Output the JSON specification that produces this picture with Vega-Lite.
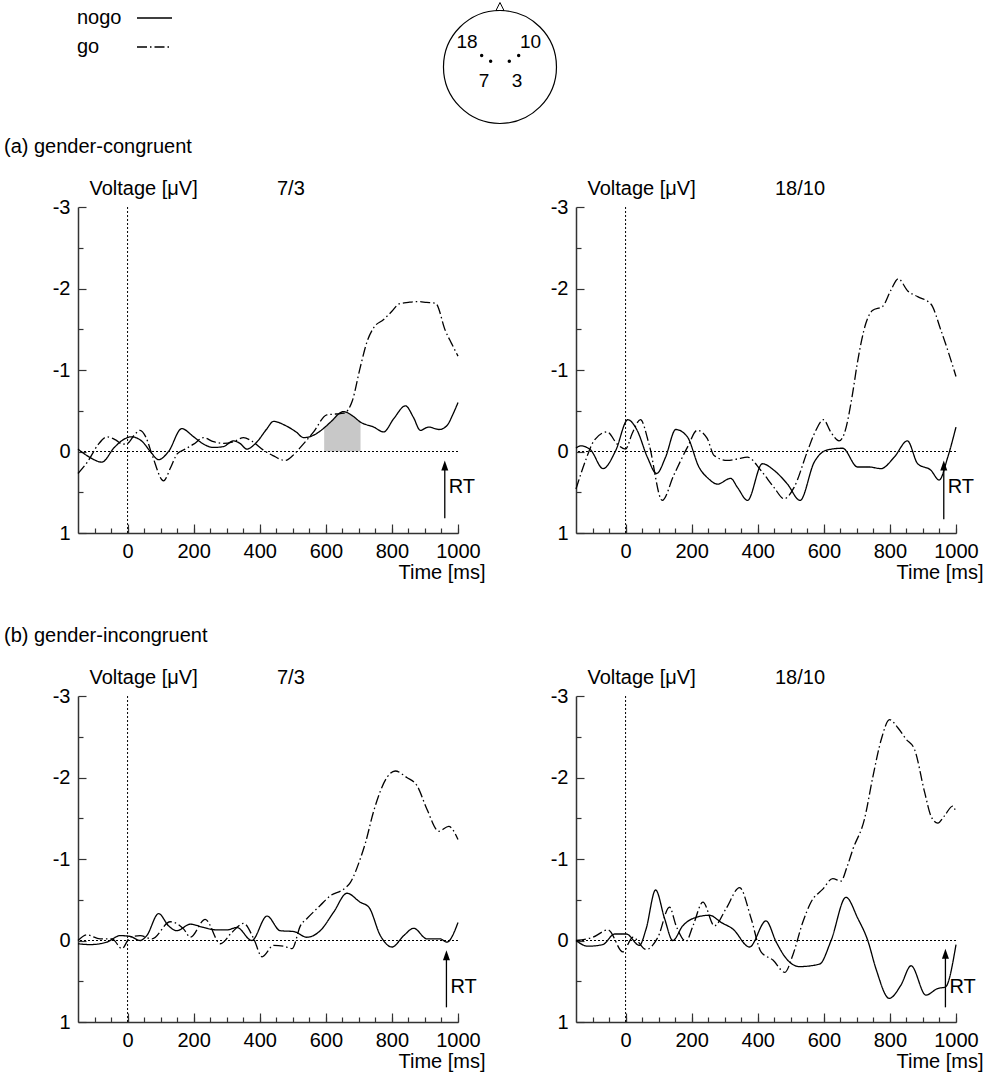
{
  "$schema": "https://vega.github.io/schema/vega-lite/v6.json",
  "padding": {"left": 4, "top": -0.5, "right": 0, "bottom": 0},
  "background": "white",
  "spacing": 10.5,
  "config": {
    "font": "Liberation Sans",
    "view": {"stroke": null},
    "axis": {"grid": false, "labelFont": "Liberation Sans", "labelFontSize": 20, "labelColor": "#000", "titleFont": "Liberation Sans", "titleFontSize": 20, "titleFontWeight": "normal", "titleColor": "#000", "domainColor": "#333", "domainWidth": 1.5, "tickColor": "#333", "tickWidth": 1.2, "labelFlush": false, "labelOverlap": false},
    "title": {"font": "Liberation Sans", "fontSize": 20, "fontWeight": "normal", "color": "#000"},
    "text": {"font": "Liberation Sans", "fontSize": 20, "color": "#000"},
    "legend": {"labelFont": "Liberation Sans", "labelFontSize": 20, "labelColor": "#000"}
  },
  "datasets": {
    "a73": [
      {"cond":"nogo","time":-150,"voltage":-0.03},{"cond":"nogo","time":-115,"voltage":0.07},{"cond":"nogo","time":-78,"voltage":0.13},{"cond":"nogo","time":-40,"voltage":-0.05},{"cond":"nogo","time":-15,"voltage":-0.14},{"cond":"nogo","time":12,"voltage":-0.18},{"cond":"nogo","time":45,"voltage":-0.12},{"cond":"nogo","time":69,"voltage":0.0},{"cond":"nogo","time":94,"voltage":0.10},{"cond":"nogo","time":124,"voltage":0.0},{"cond":"nogo","time":164,"voltage":-0.28},{"cond":"nogo","time":200,"voltage":-0.18},{"cond":"nogo","time":230,"voltage":-0.09},{"cond":"nogo","time":260,"voltage":-0.05},{"cond":"nogo","time":290,"voltage":-0.06},{"cond":"nogo","time":320,"voltage":-0.13},{"cond":"nogo","time":340,"voltage":-0.10},{"cond":"nogo","time":361,"voltage":-0.03},{"cond":"nogo","time":392,"voltage":-0.12},{"cond":"nogo","time":420,"voltage":-0.27},{"cond":"nogo","time":442,"voltage":-0.37},{"cond":"nogo","time":477,"voltage":-0.32},{"cond":"nogo","time":510,"voltage":-0.24},{"cond":"nogo","time":533,"voltage":-0.17},{"cond":"nogo","time":563,"voltage":-0.20},{"cond":"nogo","time":595,"voltage":-0.29},{"cond":"nogo","time":614,"voltage":-0.36},{"cond":"nogo","time":654,"voltage":-0.49},{"cond":"nogo","time":680,"voltage":-0.44},{"cond":"nogo","time":705,"voltage":-0.36},{"cond":"nogo","time":745,"voltage":-0.30},{"cond":"nogo","time":775,"voltage":-0.24},{"cond":"nogo","time":805,"voltage":-0.40},{"cond":"nogo","time":841,"voltage":-0.56},{"cond":"nogo","time":865,"voltage":-0.42},{"cond":"nogo","time":886,"voltage":-0.26},{"cond":"nogo","time":911,"voltage":-0.30},{"cond":"nogo","time":943,"voltage":-0.27},{"cond":"nogo","time":967,"voltage":-0.32},{"cond":"nogo","time":985,"voltage":-0.46},{"cond":"nogo","time":1000,"voltage":-0.60},
      {"cond":"go","time":-150,"voltage":0.27},{"cond":"go","time":-120,"voltage":0.12},{"cond":"go","time":-90,"voltage":-0.08},{"cond":"go","time":-62,"voltage":-0.18},{"cond":"go","time":-35,"voltage":-0.14},{"cond":"go","time":-15,"voltage":-0.09},{"cond":"go","time":0,"voltage":-0.10},{"cond":"go","time":20,"voltage":-0.20},{"cond":"go","time":38,"voltage":-0.26},{"cond":"go","time":55,"voltage":-0.18},{"cond":"go","time":75,"voltage":0.05},{"cond":"go","time":109,"voltage":0.36},{"cond":"go","time":130,"voltage":0.20},{"cond":"go","time":150,"voltage":0.03},{"cond":"go","time":175,"voltage":-0.03},{"cond":"go","time":200,"voltage":-0.09},{"cond":"go","time":230,"voltage":-0.17},{"cond":"go","time":260,"voltage":-0.12},{"cond":"go","time":290,"voltage":-0.10},{"cond":"go","time":320,"voltage":-0.12},{"cond":"go","time":351,"voltage":-0.17},{"cond":"go","time":375,"voltage":-0.13},{"cond":"go","time":410,"voltage":-0.02},{"cond":"go","time":440,"voltage":0.05},{"cond":"go","time":477,"voltage":0.11},{"cond":"go","time":500,"voltage":0.05},{"cond":"go","time":523,"voltage":-0.05},{"cond":"go","time":563,"voltage":-0.24},{"cond":"go","time":603,"voltage":-0.45},{"cond":"go","time":630,"voltage":-0.46},{"cond":"go","time":655,"voltage":-0.47},{"cond":"go","time":680,"voltage":-0.62},{"cond":"go","time":704,"voltage":-1.03},{"cond":"go","time":725,"voltage":-1.35},{"cond":"go","time":745,"voltage":-1.52},{"cond":"go","time":775,"voltage":-1.62},{"cond":"go","time":800,"voltage":-1.72},{"cond":"go","time":821,"voltage":-1.81},{"cond":"go","time":850,"voltage":-1.83},{"cond":"go","time":876,"voltage":-1.84},{"cond":"go","time":905,"voltage":-1.83},{"cond":"go","time":932,"voltage":-1.82},{"cond":"go","time":962,"voltage":-1.48},{"cond":"go","time":980,"voltage":-1.33},{"cond":"go","time":1000,"voltage":-1.17}
    ],
    "a1810": [
      {"cond":"nogo","time":-150,"voltage":-0.04},{"cond":"nogo","time":-136,"voltage":-0.07},{"cond":"nogo","time":-106,"voltage":-0.02},{"cond":"nogo","time":-68,"voltage":0.21},{"cond":"nogo","time":-30,"voltage":-0.01},{"cond":"nogo","time":7,"voltage":-0.39},{"cond":"nogo","time":35,"voltage":-0.26},{"cond":"nogo","time":66,"voltage":0.07},{"cond":"nogo","time":94,"voltage":0.27},{"cond":"nogo","time":121,"voltage":0.07},{"cond":"nogo","time":152,"voltage":-0.27},{"cond":"nogo","time":187,"voltage":-0.18},{"cond":"nogo","time":222,"voltage":0.19},{"cond":"nogo","time":250,"voltage":0.33},{"cond":"nogo","time":278,"voltage":0.40},{"cond":"nogo","time":318,"voltage":0.33},{"cond":"nogo","time":340,"voltage":0.45},{"cond":"nogo","time":369,"voltage":0.60},{"cond":"nogo","time":414,"voltage":0.15},{"cond":"nogo","time":449,"voltage":0.23},{"cond":"nogo","time":490,"voltage":0.40},{"cond":"nogo","time":528,"voltage":0.60},{"cond":"nogo","time":571,"voltage":0.13},{"cond":"nogo","time":611,"voltage":-0.02},{"cond":"nogo","time":657,"voltage":-0.04},{"cond":"nogo","time":702,"voltage":0.19},{"cond":"nogo","time":737,"voltage":0.19},{"cond":"nogo","time":773,"voltage":0.21},{"cond":"nogo","time":813,"voltage":0.07},{"cond":"nogo","time":853,"voltage":-0.13},{"cond":"nogo","time":884,"voltage":0.15},{"cond":"nogo","time":924,"voltage":0.23},{"cond":"nogo","time":949,"voltage":0.35},{"cond":"nogo","time":975,"voltage":0.07},{"cond":"nogo","time":1000,"voltage":-0.30},
      {"cond":"go","time":-150,"voltage":0.46},{"cond":"go","time":-121,"voltage":0.11},{"cond":"go","time":-96,"voltage":-0.13},{"cond":"go","time":-56,"voltage":-0.24},{"cond":"go","time":-25,"voltage":-0.09},{"cond":"go","time":0,"voltage":-0.03},{"cond":"go","time":20,"voltage":-0.22},{"cond":"go","time":45,"voltage":-0.39},{"cond":"go","time":71,"voltage":-0.09},{"cond":"go","time":111,"voltage":0.60},{"cond":"go","time":146,"voltage":0.29},{"cond":"go","time":187,"voltage":-0.05},{"cond":"go","time":217,"voltage":-0.26},{"cond":"go","time":247,"voltage":-0.16},{"cond":"go","time":268,"voltage":0.05},{"cond":"go","time":308,"voltage":0.11},{"cond":"go","time":340,"voltage":0.09},{"cond":"go","time":369,"voltage":0.07},{"cond":"go","time":409,"voltage":0.23},{"cond":"go","time":449,"voltage":0.44},{"cond":"go","time":480,"voltage":0.58},{"cond":"go","time":510,"voltage":0.44},{"cond":"go","time":551,"voltage":-0.01},{"cond":"go","time":576,"voltage":-0.26},{"cond":"go","time":599,"voltage":-0.39},{"cond":"go","time":621,"voltage":-0.24},{"cond":"go","time":646,"voltage":-0.13},{"cond":"go","time":662,"voltage":-0.22},{"cond":"go","time":687,"voltage":-0.71},{"cond":"go","time":700,"voltage":-1.05},{"cond":"go","time":727,"voltage":-1.57},{"cond":"go","time":747,"voltage":-1.73},{"cond":"go","time":778,"voltage":-1.78},{"cond":"go","time":803,"voltage":-1.98},{"cond":"go","time":825,"voltage":-2.12},{"cond":"go","time":854,"voltage":-1.97},{"cond":"go","time":884,"voltage":-1.90},{"cond":"go","time":924,"voltage":-1.81},{"cond":"go","time":955,"voltage":-1.48},{"cond":"go","time":980,"voltage":-1.18},{"cond":"go","time":1000,"voltage":-0.92}
    ],
    "b73": [
      {"cond":"nogo","time":-150,"voltage":0.04},{"cond":"nogo","time":-113,"voltage":0.05},{"cond":"nogo","time":-63,"voltage":0.02},{"cond":"nogo","time":-22,"voltage":-0.06},{"cond":"nogo","time":8,"voltage":-0.05},{"cond":"nogo","time":38,"voltage":0.0},{"cond":"nogo","time":58,"voltage":-0.06},{"cond":"nogo","time":94,"voltage":-0.33},{"cond":"nogo","time":124,"voltage":-0.18},{"cond":"nogo","time":149,"voltage":-0.12},{"cond":"nogo","time":190,"voltage":-0.20},{"cond":"nogo","time":230,"voltage":-0.16},{"cond":"nogo","time":270,"voltage":-0.13},{"cond":"nogo","time":301,"voltage":-0.13},{"cond":"nogo","time":331,"voltage":-0.16},{"cond":"nogo","time":376,"voltage":0.0},{"cond":"nogo","time":422,"voltage":-0.30},{"cond":"nogo","time":462,"voltage":-0.12},{"cond":"nogo","time":503,"voltage":-0.11},{"cond":"nogo","time":543,"voltage":-0.04},{"cond":"nogo","time":583,"voltage":-0.12},{"cond":"nogo","time":624,"voltage":-0.35},{"cond":"nogo","time":664,"voltage":-0.58},{"cond":"nogo","time":704,"voltage":-0.47},{"cond":"nogo","time":730,"voltage":-0.41},{"cond":"nogo","time":765,"voltage":-0.06},{"cond":"nogo","time":800,"voltage":0.08},{"cond":"nogo","time":836,"voltage":-0.06},{"cond":"nogo","time":866,"voltage":-0.15},{"cond":"nogo","time":906,"voltage":-0.02},{"cond":"nogo","time":946,"voltage":-0.02},{"cond":"nogo","time":966,"voltage":0.02},{"cond":"nogo","time":1000,"voltage":-0.22},
      {"cond":"go","time":-150,"voltage":0.0},{"cond":"go","time":-123,"voltage":-0.07},{"cond":"go","time":-83,"voltage":-0.02},{"cond":"go","time":-47,"voltage":-0.02},{"cond":"go","time":-17,"voltage":0.10},{"cond":"go","time":8,"voltage":-0.04},{"cond":"go","time":38,"voltage":-0.06},{"cond":"go","time":74,"voltage":-0.02},{"cond":"go","time":129,"voltage":-0.23},{"cond":"go","time":170,"voltage":-0.14},{"cond":"go","time":190,"voltage":-0.04},{"cond":"go","time":235,"voltage":-0.26},{"cond":"go","time":281,"voltage":0.04},{"cond":"go","time":316,"voltage":-0.10},{"cond":"go","time":351,"voltage":-0.21},{"cond":"go","time":382,"voltage":-0.02},{"cond":"go","time":407,"voltage":0.20},{"cond":"go","time":442,"voltage":0.06},{"cond":"go","time":472,"voltage":0.07},{"cond":"go","time":498,"voltage":0.10},{"cond":"go","time":523,"voltage":-0.18},{"cond":"go","time":543,"voltage":-0.27},{"cond":"go","time":583,"voltage":-0.43},{"cond":"go","time":614,"voltage":-0.55},{"cond":"go","time":654,"voltage":-0.63},{"cond":"go","time":674,"voltage":-0.71},{"cond":"go","time":704,"voltage":-1.0},{"cond":"go","time":720,"voltage":-1.2},{"cond":"go","time":745,"voltage":-1.59},{"cond":"go","time":785,"voltage":-2.0},{"cond":"go","time":810,"voltage":-2.08},{"cond":"go","time":845,"voltage":-2.0},{"cond":"go","time":876,"voltage":-1.90},{"cond":"go","time":906,"voltage":-1.61},{"cond":"go","time":942,"voltage":-1.34},{"cond":"go","time":972,"voltage":-1.40},{"cond":"go","time":1000,"voltage":-1.24}
    ],
    "b1810": [
      {"cond":"nogo","time":-150,"voltage":0.0},{"cond":"nogo","time":-114,"voltage":0.07},{"cond":"nogo","time":-69,"voltage":0.05},{"cond":"nogo","time":-33,"voltage":-0.08},{"cond":"nogo","time":2,"voltage":-0.08},{"cond":"nogo","time":42,"voltage":0.06},{"cond":"nogo","time":62,"voltage":-0.14},{"cond":"nogo","time":91,"voltage":-0.62},{"cond":"nogo","time":118,"voltage":-0.27},{"cond":"nogo","time":143,"voltage":0.0},{"cond":"nogo","time":173,"voltage":-0.18},{"cond":"nogo","time":204,"voltage":-0.27},{"cond":"nogo","time":254,"voltage":-0.31},{"cond":"nogo","time":290,"voltage":-0.22},{"cond":"nogo","time":325,"voltage":-0.14},{"cond":"nogo","time":375,"voltage":0.08},{"cond":"nogo","time":425,"voltage":-0.24},{"cond":"nogo","time":456,"voltage":0.02},{"cond":"nogo","time":486,"voltage":0.22},{"cond":"nogo","time":526,"voltage":0.32},{"cond":"nogo","time":587,"voltage":0.29},{"cond":"nogo","time":622,"voltage":0.0},{"cond":"nogo","time":667,"voltage":-0.53},{"cond":"nogo","time":703,"voltage":-0.27},{"cond":"nogo","time":733,"voltage":0.0},{"cond":"nogo","time":758,"voltage":0.35},{"cond":"nogo","time":798,"voltage":0.71},{"cond":"nogo","time":833,"voltage":0.55},{"cond":"nogo","time":864,"voltage":0.31},{"cond":"nogo","time":909,"voltage":0.67},{"cond":"nogo","time":944,"voltage":0.59},{"cond":"nogo","time":968,"voltage":0.57},{"cond":"nogo","time":1000,"voltage":0.05},
      {"cond":"go","time":-150,"voltage":0.0},{"cond":"go","time":-99,"voltage":-0.04},{"cond":"go","time":-53,"voltage":-0.13},{"cond":"go","time":-8,"voltage":0.14},{"cond":"go","time":22,"voltage":-0.04},{"cond":"go","time":62,"voltage":0.11},{"cond":"go","time":98,"voltage":-0.04},{"cond":"go","time":133,"voltage":-0.41},{"cond":"go","time":153,"voltage":-0.18},{"cond":"go","time":183,"voltage":0.01},{"cond":"go","time":204,"voltage":-0.18},{"cond":"go","time":234,"voltage":-0.47},{"cond":"go","time":269,"voltage":-0.18},{"cond":"go","time":304,"voltage":-0.39},{"cond":"go","time":345,"voltage":-0.65},{"cond":"go","time":380,"voltage":-0.27},{"cond":"go","time":410,"voltage":0.14},{"cond":"go","time":446,"voltage":0.24},{"cond":"go","time":482,"voltage":0.39},{"cond":"go","time":506,"voltage":0.18},{"cond":"go","time":536,"voltage":-0.22},{"cond":"go","time":561,"voltage":-0.47},{"cond":"go","time":597,"voltage":-0.63},{"cond":"go","time":627,"voltage":-0.76},{"cond":"go","time":652,"voltage":-0.73},{"cond":"go","time":670,"voltage":-0.9},{"cond":"go","time":688,"voltage":-1.12},{"cond":"go","time":723,"voltage":-1.49},{"cond":"go","time":748,"voltage":-2.0},{"cond":"go","time":774,"voltage":-2.47},{"cond":"go","time":799,"voltage":-2.71},{"cond":"go","time":824,"voltage":-2.61},{"cond":"go","time":849,"voltage":-2.47},{"cond":"go","time":874,"voltage":-2.35},{"cond":"go","time":905,"voltage":-1.82},{"cond":"go","time":925,"voltage":-1.52},{"cond":"go","time":945,"voltage":-1.44},{"cond":"go","time":965,"voltage":-1.53},{"cond":"go","time":990,"voltage":-1.65},{"cond":"go","time":1000,"voltage":-1.57}
    ],
    "electrodes": [
      {"label":"18","ex":-0.324,"ey":0.204,"lx":-0.584,"ly":0.434},
      {"label":"7","ex":-0.165,"ey":0.103,"lx":-0.283,"ly":-0.239},
      {"label":"3","ex":0.165,"ey":0.103,"lx":0.301,"ly":-0.239},
      {"label":"10","ex":0.331,"ey":0.204,"lx":0.540,"ly":0.434}
    ]
  },
  "vconcat": [
    {
      "width": 380, "height": 45,
      "layer": [
        {"data": {"values": [{}]}, "mark": {"type": "point", "shape": "circle", "size": 12769, "filled": false, "stroke": "#000", "strokeWidth": 1.2, "opacity": 1},
         "encoding": {"x": {"datum": 0, "type": "quantitative", "scale": {"domain": [-7.469, -0.743], "nice": false, "zero": false}, "axis": null},
                      "y": {"datum": 0, "type": "quantitative", "scale": {"domain": [0.3451, 1.1416], "nice": false, "zero": false}, "axis": null}}},
        {"data": {"values": [{}]}, "mark": {"type": "point", "shape": "M0,-1L-0.5,0L0.5,0Z", "size": 256, "filled": false, "stroke": "#000", "strokeWidth": 1, "opacity": 1},
         "encoding": {"x": {"datum": 0, "type": "quantitative"}, "y": {"datum": 1, "type": "quantitative"}}},
        {"data": {"name": "electrodes"}, "mark": {"type": "point", "shape": "circle", "size": 12, "filled": true, "color": "#000", "opacity": 1},
         "encoding": {"x": {"field": "ex", "type": "quantitative"}, "y": {"field": "ey", "type": "quantitative"}}},
        {"data": {"name": "electrodes"}, "mark": {"type": "text", "fontSize": 19, "align": "center", "baseline": "middle"},
         "encoding": {"x": {"field": "lx", "type": "quantitative"}, "y": {"field": "ly", "type": "quantitative"}, "text": {"field": "label"}}}
      ]
    },
    {
      "spacing": 43,
      "vconcat": [
        {
          "title": {"text": "(a) gender-congruent", "anchor": "start", "frame": "group", "dx": -74, "offset": 5, "baseline": "alphabetic"},
          "bounds": "flush",
          "spacing": 118,
          "hconcat": [
            {
              "width": 380, "height": 326,
              "title": {"text": "7/3", "anchor": "start", "frame": "group", "dx": 199, "offset": -37, "baseline": "alphabetic"},
              "resolve": {"axis": {"x": "independent"}},
              "layer": [
                {"data": {"name": "a73"}, "transform": [{"filter": "datum.cond === 'nogo' && datum.time >= 595 && datum.time <= 705"}],
                 "mark": {"type": "area", "color": "#c8c8c8", "interpolate": "monotone", "opacity": 1},
                 "encoding": {"x": {"field": "time", "type": "quantitative", "axis": null}, "y": {"field": "voltage", "type": "quantitative"}, "y2": {"datum": 0}}},
                {"data": {"values": [{}]}, "mark": {"type": "rule", "strokeDash": [2, 2], "color": "#000", "strokeWidth": 1}, "encoding": {"y": {"datum": 0, "type": "quantitative"}}},
                {"data": {"values": [{}]}, "mark": {"type": "rule", "strokeDash": [2, 2], "color": "#000", "strokeWidth": 1},
                 "encoding": {"x": {"datum": 0, "type": "quantitative", "axis": {"orient": "top", "offset": -326, "values": [-100,-50,0,50,100,150,200,250,300,350,400,450,500,550,600,650,700,750,800,850,900,950,1000], "labels": false, "domain": false, "ticks": true, "tickSize": 5, "title": null}}}},
                {"data": {"name": "a73"}, "mark": {"type": "line", "interpolate": "monotone", "color": "#000", "strokeWidth": 1.3},
                 "encoding": {
                   "x": {"field": "time", "type": "quantitative", "scale": {"domain": [-150, 1000], "nice": false, "zero": false},
                         "axis": {"values": [0,200,400,600,800,1000], "format": "d", "labelOverlap": false, "tickSize": -9, "labelPadding": 17, "title": "Time [ms]", "titleAngle": 0, "titleAlign": "right", "titleBaseline": "alphabetic", "titleX": 407, "titleY": 45.5}},
                   "y": {"field": "voltage", "type": "quantitative", "scale": {"domain": [-3, 1], "reverse": true, "nice": false, "zero": false},
                         "axis": {"values": [-3,-2.5,-2,-1.5,-1,-0.5,0,0.5,1], "labelExpr": "datum.value % 1 === 0 ? '' + datum.value : ''", "labelOverlap": false, "tickSize": {"condition": {"test": "datum.value % 1 === 0", "value": -8}, "value": -5}, "labelPadding": 16, "title": "Voltage [μV]", "titleAngle": 0, "titleAlign": "left", "titleBaseline": "alphabetic", "titleX": 11, "titleY": -13}},
                   "strokeDash": {"field": "cond", "type": "nominal", "scale": {"domain": ["nogo", "go"], "range": [[1, 0], [10, 3, 1.5, 3]]},
                                  "legend": {"title": null, "orient": "none", "legendX": -3, "legendY": -3, "direction": "vertical", "symbolType": "stroke", "symbolSize": 1225, "symbolStrokeWidth": 1.3, "symbolStrokeColor": "#000", "symbolOffset": 61, "labelOffset": -96, "rowPadding": -10}}
                 }},
                {"data": {"values": [{}]}, "mark": {"type": "rule", "color": "#000", "strokeWidth": 1.3}, "encoding": {"x": {"datum": 960, "type": "quantitative", "axis": null}, "y": {"datum": 0.82, "type": "quantitative"}, "y2": {"datum": 0.2}}},
                {"data": {"values": [{}]}, "mark": {"type": "point", "shape": "M0,0L-0.35,1L0.35,1Z", "size": 400, "filled": true, "color": "#000", "opacity": 1}, "encoding": {"x": {"datum": 960, "type": "quantitative", "axis": null}, "y": {"datum": 0.11, "type": "quantitative"}}},
                {"data": {"values": [{}]}, "mark": {"type": "text", "text": "RT", "align": "left", "baseline": "middle", "dx": 4, "fontSize": 20}, "encoding": {"x": {"datum": 960, "type": "quantitative", "axis": null}, "y": {"datum": 0.44, "type": "quantitative"}}}
              ]
            },
            {
              "width": 380, "height": 326,
              "title": {"text": "18/10", "anchor": "start", "frame": "group", "dx": 199, "offset": -37, "baseline": "alphabetic"},
              "resolve": {"axis": {"x": "independent"}},
              "layer": [
                {"data": {"values": [{}]}, "mark": {"type": "rule", "strokeDash": [2, 2], "color": "#000", "strokeWidth": 1}, "encoding": {"y": {"datum": 0, "type": "quantitative"}}},
                {"data": {"values": [{}]}, "mark": {"type": "rule", "strokeDash": [2, 2], "color": "#000", "strokeWidth": 1},
                 "encoding": {"x": {"datum": 0, "type": "quantitative", "axis": {"orient": "top", "offset": -326, "values": [-100,-50,0,50,100,150,200,250,300,350,400,450,500,550,600,650,700,750,800,850,900,950,1000], "labels": false, "domain": false, "ticks": true, "tickSize": 5, "title": null}}}},
                {"data": {"name": "a1810"}, "mark": {"type": "line", "interpolate": "monotone", "color": "#000", "strokeWidth": 1.3},
                 "encoding": {
                   "x": {"field": "time", "type": "quantitative", "scale": {"domain": [-150, 1000], "nice": false, "zero": false},
                         "axis": {"values": [0,200,400,600,800,1000], "format": "d", "labelOverlap": false, "tickSize": -9, "labelPadding": 17, "title": "Time [ms]", "titleAngle": 0, "titleAlign": "right", "titleBaseline": "alphabetic", "titleX": 407, "titleY": 45.5}},
                   "y": {"field": "voltage", "type": "quantitative", "scale": {"domain": [-3, 1], "reverse": true, "nice": false, "zero": false},
                         "axis": {"values": [-3,-2.5,-2,-1.5,-1,-0.5,0,0.5,1], "labelExpr": "datum.value % 1 === 0 ? '' + datum.value : ''", "labelOverlap": false, "tickSize": {"condition": {"test": "datum.value % 1 === 0", "value": -8}, "value": -5}, "labelPadding": 16, "title": "Voltage [μV]", "titleAngle": 0, "titleAlign": "left", "titleBaseline": "alphabetic", "titleX": 11, "titleY": -13}},
                   "strokeDash": {"field": "cond", "type": "nominal", "scale": {"domain": ["nogo", "go"], "range": [[1, 0], [10, 3, 1.5, 3]]},
                                  "legend": {"title": null, "orient": "none", "legendX": -3, "legendY": -3, "direction": "vertical", "symbolType": "stroke", "symbolSize": 1225, "symbolStrokeWidth": 1.3, "symbolStrokeColor": "#000", "symbolOffset": 61, "labelOffset": -96, "rowPadding": -10}}
                 }},
                {"data": {"values": [{}]}, "mark": {"type": "rule", "color": "#000", "strokeWidth": 1.3}, "encoding": {"x": {"datum": 963, "type": "quantitative", "axis": null}, "y": {"datum": 0.83, "type": "quantitative"}, "y2": {"datum": 0.2}}},
                {"data": {"values": [{}]}, "mark": {"type": "point", "shape": "M0,0L-0.35,1L0.35,1Z", "size": 400, "filled": true, "color": "#000", "opacity": 1}, "encoding": {"x": {"datum": 963, "type": "quantitative", "axis": null}, "y": {"datum": 0.11, "type": "quantitative"}}},
                {"data": {"values": [{}]}, "mark": {"type": "text", "text": "RT", "align": "left", "baseline": "middle", "dx": 4, "fontSize": 20}, "encoding": {"x": {"datum": 963, "type": "quantitative", "axis": null}, "y": {"datum": 0.44, "type": "quantitative"}}}
              ]
            }
          ]
        },
        {
          "title": {"text": "(b) gender-incongruent", "anchor": "start", "frame": "group", "dx": -74, "offset": 5, "baseline": "alphabetic"},
          "bounds": "flush",
          "spacing": 118,
          "hconcat": [
            {
              "width": 380, "height": 326,
              "title": {"text": "7/3", "anchor": "start", "frame": "group", "dx": 199, "offset": -37, "baseline": "alphabetic"},
              "resolve": {"axis": {"x": "independent"}},
              "layer": [
                {"data": {"values": [{}]}, "mark": {"type": "rule", "strokeDash": [2, 2], "color": "#000", "strokeWidth": 1}, "encoding": {"y": {"datum": 0, "type": "quantitative"}}},
                {"data": {"values": [{}]}, "mark": {"type": "rule", "strokeDash": [2, 2], "color": "#000", "strokeWidth": 1},
                 "encoding": {"x": {"datum": 0, "type": "quantitative", "axis": {"orient": "top", "offset": -326, "values": [-100,-50,0,50,100,150,200,250,300,350,400,450,500,550,600,650,700,750,800,850,900,950,1000], "labels": false, "domain": false, "ticks": true, "tickSize": 5, "title": null}}}},
                {"data": {"name": "b73"}, "mark": {"type": "line", "interpolate": "monotone", "color": "#000", "strokeWidth": 1.3},
                 "encoding": {
                   "x": {"field": "time", "type": "quantitative", "scale": {"domain": [-150, 1000], "nice": false, "zero": false},
                         "axis": {"values": [0,200,400,600,800,1000], "format": "d", "labelOverlap": false, "tickSize": -9, "labelPadding": 17, "title": "Time [ms]", "titleAngle": 0, "titleAlign": "right", "titleBaseline": "alphabetic", "titleX": 407, "titleY": 45.5}},
                   "y": {"field": "voltage", "type": "quantitative", "scale": {"domain": [-3, 1], "reverse": true, "nice": false, "zero": false},
                         "axis": {"values": [-3,-2.5,-2,-1.5,-1,-0.5,0,0.5,1], "labelExpr": "datum.value % 1 === 0 ? '' + datum.value : ''", "labelOverlap": false, "tickSize": {"condition": {"test": "datum.value % 1 === 0", "value": -8}, "value": -5}, "labelPadding": 16, "title": "Voltage [μV]", "titleAngle": 0, "titleAlign": "left", "titleBaseline": "alphabetic", "titleX": 11, "titleY": -13}},
                   "strokeDash": {"field": "cond", "type": "nominal", "scale": {"domain": ["nogo", "go"], "range": [[1, 0], [10, 3, 1.5, 3]]},
                                  "legend": {"title": null, "orient": "none", "legendX": -3, "legendY": -3, "direction": "vertical", "symbolType": "stroke", "symbolSize": 1225, "symbolStrokeWidth": 1.3, "symbolStrokeColor": "#000", "symbolOffset": 61, "labelOffset": -96, "rowPadding": -10}}
                 }},
                {"data": {"values": [{}]}, "mark": {"type": "rule", "color": "#000", "strokeWidth": 1.3}, "encoding": {"x": {"datum": 965, "type": "quantitative", "axis": null}, "y": {"datum": 0.82, "type": "quantitative"}, "y2": {"datum": 0.2}}},
                {"data": {"values": [{}]}, "mark": {"type": "point", "shape": "M0,0L-0.35,1L0.35,1Z", "size": 400, "filled": true, "color": "#000", "opacity": 1}, "encoding": {"x": {"datum": 965, "type": "quantitative", "axis": null}, "y": {"datum": 0.12, "type": "quantitative"}}},
                {"data": {"values": [{}]}, "mark": {"type": "text", "text": "RT", "align": "left", "baseline": "middle", "dx": 4, "fontSize": 20}, "encoding": {"x": {"datum": 965, "type": "quantitative", "axis": null}, "y": {"datum": 0.57, "type": "quantitative"}}}
              ]
            },
            {
              "width": 380, "height": 326,
              "title": {"text": "18/10", "anchor": "start", "frame": "group", "dx": 199, "offset": -37, "baseline": "alphabetic"},
              "resolve": {"axis": {"x": "independent"}},
              "layer": [
                {"data": {"values": [{}]}, "mark": {"type": "rule", "strokeDash": [2, 2], "color": "#000", "strokeWidth": 1}, "encoding": {"y": {"datum": 0, "type": "quantitative"}}},
                {"data": {"values": [{}]}, "mark": {"type": "rule", "strokeDash": [2, 2], "color": "#000", "strokeWidth": 1},
                 "encoding": {"x": {"datum": 0, "type": "quantitative", "axis": {"orient": "top", "offset": -326, "values": [-100,-50,0,50,100,150,200,250,300,350,400,450,500,550,600,650,700,750,800,850,900,950,1000], "labels": false, "domain": false, "ticks": true, "tickSize": 5, "title": null}}}},
                {"data": {"name": "b1810"}, "mark": {"type": "line", "interpolate": "monotone", "color": "#000", "strokeWidth": 1.3},
                 "encoding": {
                   "x": {"field": "time", "type": "quantitative", "scale": {"domain": [-150, 1000], "nice": false, "zero": false},
                         "axis": {"values": [0,200,400,600,800,1000], "format": "d", "labelOverlap": false, "tickSize": -9, "labelPadding": 17, "title": "Time [ms]", "titleAngle": 0, "titleAlign": "right", "titleBaseline": "alphabetic", "titleX": 407, "titleY": 45.5}},
                   "y": {"field": "voltage", "type": "quantitative", "scale": {"domain": [-3, 1], "reverse": true, "nice": false, "zero": false},
                         "axis": {"values": [-3,-2.5,-2,-1.5,-1,-0.5,0,0.5,1], "labelExpr": "datum.value % 1 === 0 ? '' + datum.value : ''", "labelOverlap": false, "tickSize": {"condition": {"test": "datum.value % 1 === 0", "value": -8}, "value": -5}, "labelPadding": 16, "title": "Voltage [μV]", "titleAngle": 0, "titleAlign": "left", "titleBaseline": "alphabetic", "titleX": 11, "titleY": -13}},
                   "strokeDash": {"field": "cond", "type": "nominal", "scale": {"domain": ["nogo", "go"], "range": [[1, 0], [10, 3, 1.5, 3]]},
                                  "legend": {"title": null, "orient": "none", "legendX": -3, "legendY": -3, "direction": "vertical", "symbolType": "stroke", "symbolSize": 1225, "symbolStrokeWidth": 1.3, "symbolStrokeColor": "#000", "symbolOffset": 61, "labelOffset": -96, "rowPadding": -10}}
                 }},
                {"data": {"values": [{}]}, "mark": {"type": "rule", "color": "#000", "strokeWidth": 1.3}, "encoding": {"x": {"datum": 968, "type": "quantitative", "axis": null}, "y": {"datum": 0.82, "type": "quantitative"}, "y2": {"datum": 0.2}}},
                {"data": {"values": [{}]}, "mark": {"type": "point", "shape": "M0,0L-0.35,1L0.35,1Z", "size": 400, "filled": true, "color": "#000", "opacity": 1}, "encoding": {"x": {"datum": 968, "type": "quantitative", "axis": null}, "y": {"datum": 0.10, "type": "quantitative"}}},
                {"data": {"values": [{}]}, "mark": {"type": "text", "text": "RT", "align": "left", "baseline": "middle", "dx": 4, "fontSize": 20}, "encoding": {"x": {"datum": 968, "type": "quantitative", "axis": null}, "y": {"datum": 0.57, "type": "quantitative"}}}
              ]
            }
          ]
        }
      ]
    }
  ]
}
